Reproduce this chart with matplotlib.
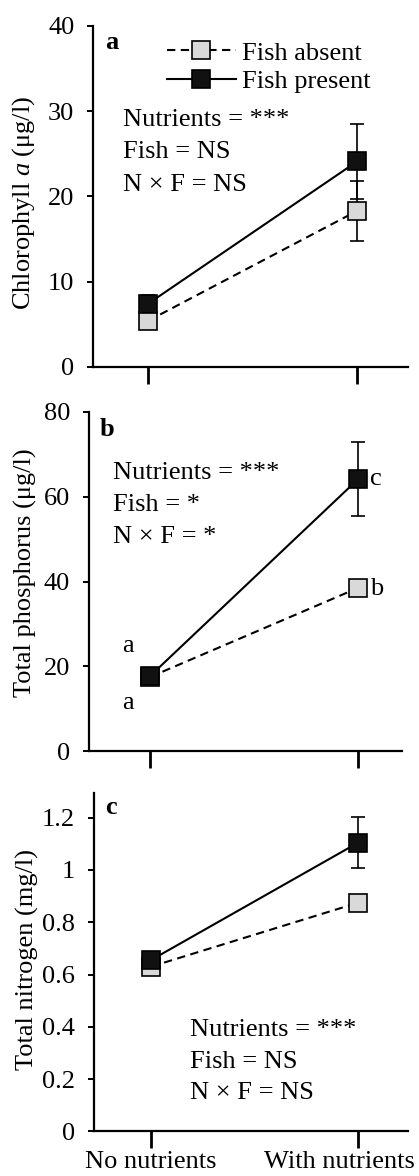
import matplotlib
matplotlib.use("Agg")
import matplotlib.pyplot as plt
from matplotlib.lines import Line2D
from matplotlib.ticker import FuncFormatter
import matplotlib.transforms as mtransforms


# -----------------------------
# Data
# -----------------------------

treatments = ["No nutrients", "With nutrients"]

chl_absent = [5.4, 18.3]
chl_absent_err = [0.6, 3.5]
chl_present = [7.4, 24.1]
chl_present_err = [1.0, 4.4]

tp_absent = [17.5, 38.5]
tp_absent_err = [0.6, 1.0]
tp_present = [17.7, 64.1]
tp_present_err = [0.8, 8.7]

tn_absent = [0.63, 0.875]
tn_absent_err = [0.015, 0.03]
tn_present = [0.655, 1.105]
tn_present_err = [0.015, 0.098]

stats_a = ["Nutrients = ***", "Fish = NS", "N \u00d7 F = NS"]
stats_b = ["Nutrients = ***", "Fish = *", "N \u00d7 F = *"]
stats_c = ["Nutrients = ***", "Fish = NS", "N \u00d7 F = NS"]

# letters on panel b: (x index, y value, letter)
tp_letters_x = [0, 0, 1, 1]
tp_letters_y = [23.3, 10.1, 62.7, 36.8]
tp_letters = ["a", "a", "c", "b"]


# -----------------------------
# Style
# -----------------------------

plt.rcParams["font.family"] = ["Liberation Serif", "DejaVu Serif"]
plt.rcParams["mathtext.fontset"] = "custom"
plt.rcParams["mathtext.rm"] = "Liberation Serif"
plt.rcParams["mathtext.it"] = "Liberation Serif:italic"
FS = 19
GRAY = "#d9d9d9"
LW = 1.5
MS = 13.5
DASH = (0, (4, 2.6))

ABSENT_STYLE = dict(color="black", linestyle=DASH, linewidth=LW, marker="s",
                    markersize=MS, markerfacecolor=GRAY,
                    markeredgecolor="black", markeredgewidth=1.2)
PRESENT_STYLE = dict(color="black", linestyle="-", linewidth=LW, marker="s",
                     markersize=MS, markerfacecolor="#111111",
                     markeredgecolor="black", markeredgewidth=1.2)
ERR_STYLE = dict(ecolor="black", elinewidth=1.2, capsize=5, capthick=1.2)


def draw_panel(ax, absent, absent_err, present, present_err):
    x = [0, 1]
    ax.errorbar(x, absent, yerr=absent_err, zorder=2,
                **ABSENT_STYLE, **ERR_STYLE)
    ax.errorbar(x, present, yerr=present_err, zorder=3,
                **PRESENT_STYLE, **ERR_STYLE)

    for side in ["top", "right"]:
        ax.spines[side].set_visible(False)
    for side in ["left", "bottom"]:
        ax.spines[side].set_linewidth(1.6)

    ax.set_xticks([0, 1])
    ax.tick_params(axis="x", direction="out", length=12, width=2.0, pad=2,
                   labelsize=FS)
    ax.tick_params(axis="y", direction="out", length=4.5, width=1.4, pad=9,
                   labelsize=FS)


def put_stats(ax, lines, x, y_top, step):
    for i, line in enumerate(lines):
        ax.text(x, y_top - i * step, line, transform=ax.transAxes,
                fontsize=FS, ha="left", va="center")


fig = plt.figure(figsize=(4.19, 11.76), dpi=100)

ax_a = fig.add_axes([0.222, 0.688, 0.752, 0.290])
ax_b = fig.add_axes([0.212, 0.361, 0.747, 0.289])
ax_c = fig.add_axes([0.224, 0.038, 0.750, 0.288])

# -----------------------------
# Panel a: chlorophyll
# -----------------------------

draw_panel(ax_a, chl_absent, chl_absent_err, chl_present, chl_present_err)
ax_a.set_xlim(-0.263, 1.244)
ax_a.set_ylim(0, 40)
ax_a.set_yticks([0, 10, 20, 30, 40])
ax_a.set_xticklabels([])
ax_a.set_ylabel("Chlorophyll $\\it{a}$ (\u03bcg/l)", fontsize=FS)
ax_a.yaxis.set_label_coords(37 / 419, 1 - 203 / 1176, transform=fig.transFigure)
ax_a.text(0.06, 0.95, "a", transform=ax_a.transAxes, fontsize=FS,
          fontweight="bold", ha="center", va="center")
put_stats(ax_a, stats_a, 0.095, 0.725, 0.096)

legend_handles = [
    Line2D([], [], **ABSENT_STYLE),
    Line2D([], [], **PRESENT_STYLE),
]
ax_a.legend(
    legend_handles, ["Fish absent", "Fish present"],
    loc="upper left", bbox_to_anchor=(0.235, 0.955), frameon=False,
    fontsize=FS, handlelength=2.6, handletextpad=0.25, labelspacing=0.2,
    borderpad=0, borderaxespad=0,
)

# -----------------------------
# Panel b: total phosphorus
# -----------------------------

draw_panel(ax_b, tp_absent, tp_absent_err, tp_present, tp_present_err)
ax_b.set_xlim(-0.293, 1.21)
ax_b.set_ylim(0, 80)
ax_b.set_yticks([0, 20, 40, 60, 80])
ax_b.set_xticklabels([])
ax_b.set_ylabel("Total phosphorus (\u03bcg/l)", fontsize=FS)
ax_b.yaxis.set_label_coords(37 / 419, 1 - 573 / 1176, transform=fig.transFigure)
ax_b.text(0.058, 0.947, "b", transform=ax_b.transAxes, fontsize=FS,
          fontweight="bold", ha="center", va="center")
put_stats(ax_b, stats_b, 0.078, 0.82, 0.094)

for xi, yi, letter in zip(tp_letters_x, tp_letters_y, tp_letters):
    dx = -0.106 if xi == 0 else 0.087
    ax_b.text(xi + dx, yi, letter, fontsize=FS, ha="center", va="baseline")

# -----------------------------
# Panel c: total nitrogen
# -----------------------------

draw_panel(ax_c, tn_absent, tn_absent_err, tn_present, tn_present_err)
ax_c.set_xlim(-0.275, 1.24)
ax_c.set_ylim(0, 1.296)
ax_c.set_yticks([0, 0.2, 0.4, 0.6, 0.8, 1.0, 1.2])
ax_c.yaxis.set_major_formatter(FuncFormatter(lambda v, p: f"{v:g}"))
ax_c.set_xticklabels(treatments)
ax_c.set_ylabel("Total nitrogen (mg/l)", fontsize=FS)
ax_c.yaxis.set_label_coords(39 / 419, 1 - 960 / 1176, transform=fig.transFigure)
ax_c.text(0.054, 0.956, "c", transform=ax_c.transAxes, fontsize=FS,
          fontweight="bold", ha="center", va="center")
put_stats(ax_c, stats_c, 0.305, 0.30, 0.094)

# shift the right-hand tick label left so it stays inside the figure
lab = ax_c.get_xticklabels()[1]
lab.set_transform(lab.get_transform()
                  + mtransforms.ScaledTranslation(-19 / 100, 0, fig.dpi_scale_trans))

fig.savefig("out.png", dpi=100)
